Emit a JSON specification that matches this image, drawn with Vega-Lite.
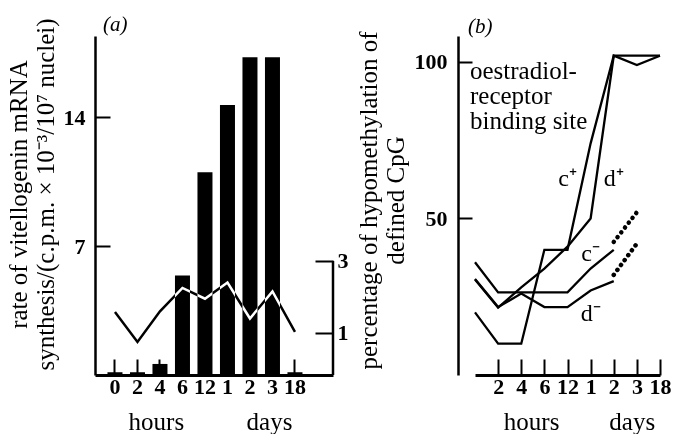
{
  "$schema": "https://vega.github.io/schema/vega-lite/v6.json",
  "padding": {"left": 6, "top": 13, "right": 0, "bottom": 0},
  "background": "white",
  "bounds": "flush",
  "spacing": 125,
  "config": {
    "view": {"stroke": null},
    "font": "Liberation Serif",
    "axis": {
      "domainColor": "black", "domainWidth": 2.5, "tickColor": "black", "tickWidth": 2,
      "labelColor": "black", "labelFont": "Liberation Serif", "labelFontWeight": "bold", "labelFontSize": 22,
      "titleFont": "Liberation Serif", "titleFontWeight": "normal", "titleFontSize": 25, "titleColor": "black",
      "grid": false
    },
    "title": {"font": "Liberation Serif", "fontStyle": "italic", "fontSize": 21, "fontWeight": "normal", "anchor": "start", "color": "black", "frame": "group"}
  },
  "datasets": {
    "mrna": [
      {"time": "0h", "rate": 0.15}, {"time": "2h", "rate": 0.15}, {"time": "4h", "rate": 0.6},
      {"time": "6h", "rate": 5.4}, {"time": "12h", "rate": 11.0}, {"time": "1d", "rate": 14.65},
      {"time": "2d", "rate": 17.25}, {"time": "3d", "rate": 17.25}, {"time": "18d", "rate": 0.15}
    ],
    "hypoA": [
      {"time": "0h", "pct": 1.58}, {"time": "2h", "pct": 0.75}, {"time": "4h", "pct": 1.6},
      {"time": "6h", "pct": 2.25}, {"time": "12h", "pct": 1.95}, {"time": "1d", "pct": 2.4},
      {"time": "2d", "pct": 1.4}, {"time": "3d", "pct": 2.15}, {"time": "18d", "pct": 1.03}
    ],
    "rightAxis": [
      {"top": 3, "bottom": -0.17}
    ],
    "meth": [
      {"series": "c+", "time": "0h", "pct": 20}, {"series": "c+", "time": "2h", "pct": 10},
      {"series": "c+", "time": "4h", "pct": 10}, {"series": "c+", "time": "6h", "pct": 40},
      {"series": "c+", "time": "12h", "pct": 40}, {"series": "c+", "time": "1d", "pct": 74},
      {"series": "c+", "time": "2d", "pct": 102}, {"series": "c+", "time": "3d", "pct": 102},
      {"series": "c+", "time": "18d", "pct": 102},
      {"series": "d+", "time": "0h", "pct": 30.5}, {"series": "d+", "time": "2h", "pct": 21.5},
      {"series": "d+", "time": "4h", "pct": 28}, {"series": "d+", "time": "6h", "pct": 34},
      {"series": "d+", "time": "12h", "pct": 41}, {"series": "d+", "time": "1d", "pct": 50},
      {"series": "d+", "time": "2d", "pct": 102}, {"series": "d+", "time": "3d", "pct": 99},
      {"series": "d+", "time": "18d", "pct": 102},
      {"series": "c-", "time": "0h", "pct": 36}, {"series": "c-", "time": "2h", "pct": 26.4},
      {"series": "c-", "time": "4h", "pct": 26.4}, {"series": "c-", "time": "6h", "pct": 26.4},
      {"series": "c-", "time": "12h", "pct": 26.4}, {"series": "c-", "time": "1d", "pct": 34},
      {"series": "c-", "time": "2d", "pct": 40},
      {"series": "d-", "time": "0h", "pct": 30.7}, {"series": "d-", "time": "2h", "pct": 21.7},
      {"series": "d-", "time": "4h", "pct": 26}, {"series": "d-", "time": "6h", "pct": 21.7},
      {"series": "d-", "time": "12h", "pct": 21.7}, {"series": "d-", "time": "1d", "pct": 27},
      {"series": "d-", "time": "2d", "pct": 30}
    ],
    "methDots": [
      {"series": "c-", "time": "2d", "pct": 42.5}, {"series": "c-", "time": "3d", "pct": 52},
      {"series": "d-", "time": "2d", "pct": 32}, {"series": "d-", "time": "3d", "pct": 42}
    ],
    "siteNote": [
      {"time": "0h", "pct": 101, "label": "oestradiol-\nreceptor\nbinding site"}
    ],
    "lineLabels": [
      {"time": "12h", "pct": 62.6, "label": "c⁺"},
      {"time": "2d", "pct": 62.6, "label": "d⁺"},
      {"time": "1d", "pct": 38.7, "label": "c⁻"},
      {"time": "1d", "pct": 19.5, "label": "d⁻"}
    ]
  },
  "hconcat": [
    {
      "width": 238,
      "height": 339,
      "title": {"text": "(a)", "dx": 8, "offset": -17},
      "layer": [
        {
          "data": {"name": "mrna"},
          "mark": {"type": "bar", "color": "black"},
          "encoding": {
            "x": {
              "field": "time", "type": "ordinal",
              "scale": {"domain": ["0h", "2h", "4h", "6h", "12h", "1d", "2d", "3d", "18d"], "paddingInner": 0.333, "paddingOuter": 0.9555, "align": 0.29},
              "axis": {
                "title": "hours\u00a0\u00a0\u00a0\u00a0\u00a0\u00a0\u00a0\u00a0\u00a0\u00a0days", "labelAngle": 0, "tickSize": -16, "labelPadding": 17,
                "labelExpr": "replace(replace(datum.value, 'h', ''), 'd', '')",
                "domainWidth": 3, "titlePadding": 12, "titleX": 115
              }
            },
            "y": {
              "field": "rate", "type": "quantitative",
              "scale": {"domain": [0, 18.4], "nice": false},
              "axis": {
                "values": [7, 14], "tickSize": -15, "labelPadding": 25, "titlePadding": 5, "titleY": 158,
                "title": ["rate of vitellogenin mRNA", "synthesis/(c.p.m. × 10⁻³/10⁷ nuclei)"]
              }
            }
          }
        },
        {
          "layer": [
            {
              "data": {"name": "hypoA"},
              "mark": {"type": "line", "color": "white", "strokeWidth": 2.5, "blend": "difference"},
              "encoding": {
                "x": {"field": "time", "type": "ordinal"},
                "y": {
                  "field": "pct", "type": "quantitative",
                  "scale": {"domain": [-0.17, 9.25], "nice": false, "zero": false},
                  "axis": {"orient": "right", "values": [1, 3], "tickSize": -18, "labelPadding": 22, "domain": false, "title": null}
                }
              }
            },
            {
              "data": {"name": "rightAxis"},
              "mark": {"type": "rule", "color": "black", "strokeWidth": 2.5},
              "encoding": {
                "x": {"value": "width"},
                "y": {"field": "top", "type": "quantitative"},
                "y2": {"field": "bottom"}
              }
            }
          ]
        }
      ],
      "resolve": {"scale": {"y": "independent"}, "axis": {"y": "independent"}}
    },
    {
      "width": 230,
      "height": 339,
      "title": {"text": "(b)", "dx": 10, "offset": -6},
      "layer": [
        {
          "data": {"name": "meth"},
          "mark": {"type": "line", "color": "black", "strokeWidth": 2.3},
          "encoding": {
            "x": {
              "field": "time", "type": "ordinal",
              "scale": {"type": "point", "domain": ["0h", "2h", "4h", "6h", "12h", "1d", "2d", "3d", "18d"], "range": [17, 202], "padding": 0},
              "axis": {
                "values": ["2h", "4h", "6h", "12h", "1d", "2d", "3d", "18d"],
                "title": "hours\u00a0\u00a0\u00a0\u00a0\u00a0\u00a0\u00a0\u00a0days", "labelAngle": 0, "tickSize": -16, "labelPadding": 17,
                "labelExpr": "replace(replace(datum.value, 'h', ''), 'd', '')",
                "domainWidth": 3, "titlePadding": 12, "titleX": 121
              }
            },
            "y": {
              "field": "pct", "type": "quantitative",
              "scale": {"domain": [0, 108.3], "nice": false},
              "axis": {
                "values": [50, 100], "tickSize": -14, "labelPadding": 25, "titlePadding": 6, "titleY": 164,
                "title": ["percentage of hypomethylation of", "defined CpG"]
              }
            },
            "detail": {"field": "series"}
          }
        },
        {
          "data": {"name": "methDots"},
          "mark": {"type": "line", "color": "black", "strokeWidth": 4.5, "strokeDash": [0.1, 6], "strokeCap": "round"},
          "encoding": {
            "x": {"field": "time", "type": "ordinal"},
            "y": {"field": "pct", "type": "quantitative"},
            "detail": {"field": "series"}
          }
        },
        {
          "data": {"name": "siteNote"},
          "mark": {"type": "text", "align": "left", "baseline": "top", "lineBreak": "\n", "fontSize": 25, "lineHeight": 25, "dx": -5, "font": "Liberation Serif", "color": "black"},
          "encoding": {
            "x": {"field": "time", "type": "ordinal"},
            "y": {"field": "pct", "type": "quantitative"},
            "text": {"field": "label"}
          }
        },
        {
          "data": {"name": "lineLabels"},
          "mark": {"type": "text", "align": "center", "baseline": "middle", "fontSize": 24, "font": "Liberation Serif", "color": "black"},
          "encoding": {
            "x": {"field": "time", "type": "ordinal"},
            "y": {"field": "pct", "type": "quantitative"},
            "text": {"field": "label"}
          }
        }
      ]
    }
  ]
}
